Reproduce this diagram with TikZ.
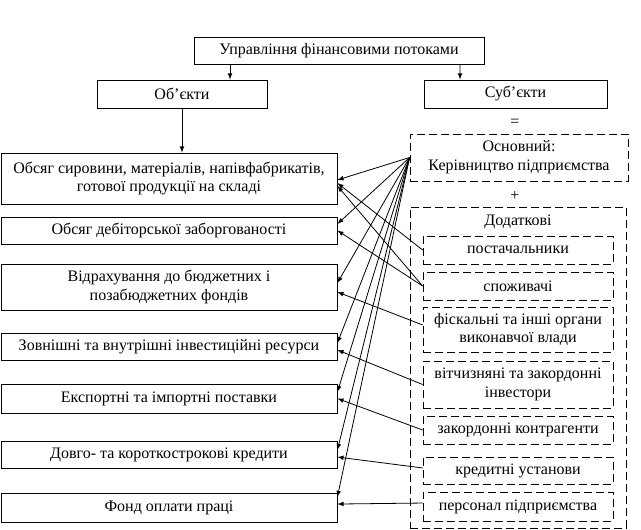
\documentclass[tikz,border=0pt]{standalone}
\usepackage{fontspec}
\setmainfont{Liberation Serif}

\begin{document}
\begin{tikzpicture}[>=latex,x=0.75pt,y=-0.75pt,line width=0.6pt,
	font=\fontsize{12}{14}\selectfont,
	blok/.style={draw,rectangle,align=center,inner sep=0pt},
	pblok/.style={blok,dash pattern=on 6pt off 3pt}]

\useasboundingbox (0,0) rectangle (641,530);

% verkhnia chastyna
\node[blok,minimum width=217.5pt,minimum height=20.25pt] (upr) at (339,50.5)
	{Управління фінансовими потоками};
\node[blok,minimum width=127.5pt,minimum height=21pt] (obj) at (182,94) {Об’єкти};
\node[blok,minimum width=137.25pt,minimum height=21pt] (subj) at (515.5,94) {Суб’єкти};

% ob'iekty
\node[blok,minimum width=252pt,minimum height=38.25pt] (b1) at (169,178.5)
	{Обсяг сировини, матеріалів, напівфабрикатів,\\ готової продукції на складі};
\node[blok,minimum width=252pt,minimum height=20.25pt] (b2) at (169,230.5)
	{Обсяг дебіторської заборгованості};
\node[blok,minimum width=252pt,minimum height=34.5pt] (b3) at (169,287)
	{Відрахування до бюджетних і\\ позабюджетних фондів};
\node[blok,minimum width=252pt,minimum height=20.25pt] (b4) at (169,346.5)
	{Зовнішні та внутрішні інвестиційні ресурси};
\node[blok,minimum width=252pt,minimum height=21.75pt] (b5) at (169,398.5)
	{Експортні та імпортні поставки};
\node[blok,minimum width=252pt,minimum height=20.25pt] (b6) at (169,454.5)
	{Довго- та короткострокові кредити};
\node[blok,minimum width=252pt,minimum height=21.75pt] (b7) at (169,507.5)
	{Фонд оплати праці};

% sub'iekty
\node (dor) at (515,123) {=};
\node[pblok,minimum width=163.5pt,minimum height=35.25pt] (osn) at (519,157.5)
	{Основний:\\ Керівництво підприємства};
\node (plus) at (515,196) {+};
\node[pblok,minimum width=162pt,minimum height=240.75pt] (dod) at (518,367.5) {};
\node (dodt) at (518,222) {Додаткові};

\node[pblok,minimum width=142.5pt,minimum height=21pt] (s1) at (518,250) {постачальники};
\node[pblok,minimum width=142.5pt,minimum height=21pt] (s2) at (518,286) {споживачі};
\node[pblok,minimum width=142.5pt,minimum height=33.75pt] (s3) at (518,329.5)
	{фіскальні та інші органи\\ виконавчої влади};
\node[pblok,minimum width=142.5pt,minimum height=35.25pt] (s4) at (518,384.5)
	{вітчизняні та закордонні\\ інвестори};
\node[pblok,minimum width=142.5pt,minimum height=21pt] (s5) at (518,430) {закордонні контрагенти};
\node[pblok,minimum width=142.5pt,minimum height=20.25pt] (s6) at (518,470.5) {кредитні установи};
\node[pblok,minimum width=142.5pt,minimum height=21.75pt] (s7) at (518,506.5) {персонал підприємства};

% strilky
\draw[->] ([xshift=-81.75pt]upr.south) -- ([xshift=36pt]obj.north);
\draw[->] ([xshift=90.75pt]upr.south) -- ([xshift=-41.6pt]subj.north);
\draw[->] (obj.south) -- (obj.south |- b1.north);

\foreach \b/\d in {b1/-1.1,b2/4.9,b3/3,b4/2.6,b5/4.9,b6/3.4,b7/7.9}
	\draw[->] (osn.west) -- ([yshift=\d pt]\b.east);

\foreach \s/\ds/\b/\db in {s1/0/b1/-3.4,s2/0/b1/-5.6,s2/0/b2/0,s3/3.4/b3/-3.75,
	s4/0/b4/-2.6,s5/0/b5/0,s6/1.9/b6/-1.9,s7/2.6/b7/2.6}
	\draw[->] ([yshift=\ds pt]\s.west) -- ([yshift=\db pt]\b.east);

\end{tikzpicture}
\end{document}
